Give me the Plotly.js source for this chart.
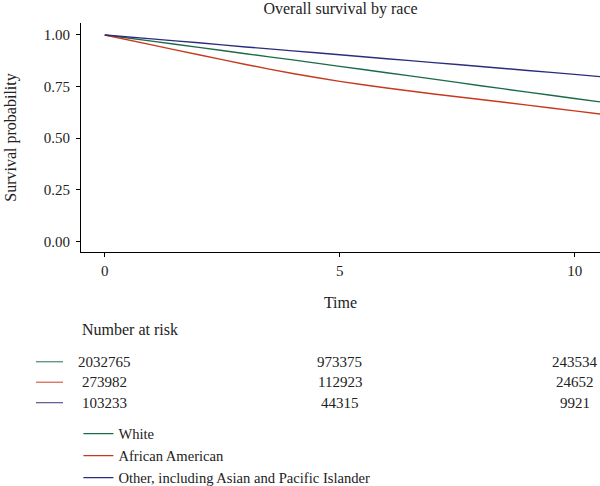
<!DOCTYPE html>
<html>
<head>
<meta charset="utf-8">
<script src="https://cdn.plot.ly/plotly-3.0.1.min.js"></script>
<style>html,body{margin:0;padding:0;background:#fff;}#chart{width:600px;height:486px;}</style>
</head>
<body>
<div id="chart"></div>
<script>
// ---- data ----
const timePoints = [0, 1, 2, 3, 4, 5, 6, 7, 8, 9, 10, 10.6];
const seriesNames = ["White", "African American", "Other, including Asian and Pacific Islander"];
const survWhite = [1.000, 0.970, 0.940, 0.909, 0.879, 0.848, 0.817, 0.786, 0.754, 0.723, 0.692, 0.674];
const survAfrican = [1.000, 0.952, 0.904, 0.857, 0.813, 0.775, 0.743, 0.714, 0.687, 0.660, 0.632, 0.615];
const survOther = [1.000, 0.981, 0.962, 0.942, 0.923, 0.904, 0.885, 0.866, 0.847, 0.828, 0.809, 0.797];
const riskTimes = [0, 5, 10];
const riskWhite = [2032765, 973375, 243534];
const riskAfrican = [273982, 112923, 24652];
const riskOther = [103233, 44315, 9921];
const yTicks = [0, 0.25, 0.5, 0.75, 1.0];
const xTicks = [0, 5, 10];

const colors = ["#1b6b47", "#c9381e", "#2c2c7e"];
const FONT = "Liberation Serif, Times New Roman, serif";
const TXT = "#222";

const allSurv = [survWhite, survAfrican, survOther];
const traces = allSurv.map((s, i) => ({
  type: "scatter", mode: "lines", x: timePoints, y: s, name: seriesNames[i],
  line: {color: colors[i], width: 1.4, shape: "spline", smoothing: 0.5}, hoverinfo: "skip"
}));

const H = 229.5; // plot height px
const py = px => (252 - px) / H;
const W = 519;
const pxX = px => (px - 81) / W;

const annotations = [];
const shapes = [];
annotations.push({text: "Number at risk", xref: "paper", yref: "paper", x: -0.002, y: py(330),
  xanchor: "left", yanchor: "middle", showarrow: false, font: {family: FONT, size: 16, color: TXT}});
const riskRows = [riskWhite, riskAfrican, riskOther];
const rowY = [362, 382.5, 403];
riskRows.forEach((row, r) => {
  row.forEach((v, k) => {
    annotations.push({text: String(v), xref: "x", yref: "paper", x: riskTimes[k], y: py(rowY[r]),
      xanchor: "center", yanchor: "middle", showarrow: false, font: {family: FONT, size: 15, color: TXT}});
  });
  shapes.push({type: "line", xref: "paper", yref: "paper", x0: pxX(36), x1: pxX(63), y0: py(rowY[r]), y1: py(rowY[r]),
    line: {color: colors[r], width: 1.2}, opacity: 0.8});
});

const layout = {
  width: 600, height: 486,
  margin: {l: 81, r: 0, t: 22.5, b: 234, autoexpand: false},
  paper_bgcolor: "#fff", plot_bgcolor: "#fff",
  font: {family: FONT, size: 15, color: TXT},
  title: {text: "Overall survival by race", xref: "paper", x: 0.5, xanchor: "center",
    yref: "container", y: 1 - 8.5 / 486, yanchor: "middle",
    font: {family: FONT, size: 16, color: TXT}},
  xaxis: {range: [-0.506, 10.54], tickvals: xTicks, ticktext: xTicks.map(String), ticks: "outside", ticklen: 4,
    tickcolor: "#000", showline: true, linecolor: "#000", linewidth: 1, showgrid: false, zeroline: false,
    ticklabelstandoff: 1,
    tickfont: {family: FONT, size: 15, color: TXT},
    title: {text: "Time", font: {family: FONT, size: 16, color: TXT}, standoff: 18}},
  yaxis: {range: [-0.052, 1.058], tickvals: yTicks, tickformat: ".2f", ticks: "outside", ticklen: 4,
    tickcolor: "#000", showline: true, linecolor: "#000", linewidth: 1, showgrid: false, zeroline: false,
    ticklabelstandoff: 3,
    tickfont: {family: FONT, size: 15, color: TXT},
    title: {text: "Survival probability", font: {family: FONT, size: 16, color: TXT}, standoff: 23}},
  showlegend: true,
  legend: {x: -0.005, xanchor: "left", y: py(418), yanchor: "top", orientation: "v",
    font: {family: FONT, size: 14.6, color: TXT}, bgcolor: "rgba(0,0,0,0)", tracegroupgap: 0},
  annotations: annotations,
  shapes: shapes
};

Plotly.newPlot("chart", traces, layout, {staticPlot: true, displayModeBar: false});
</script>
</body>
</html>
